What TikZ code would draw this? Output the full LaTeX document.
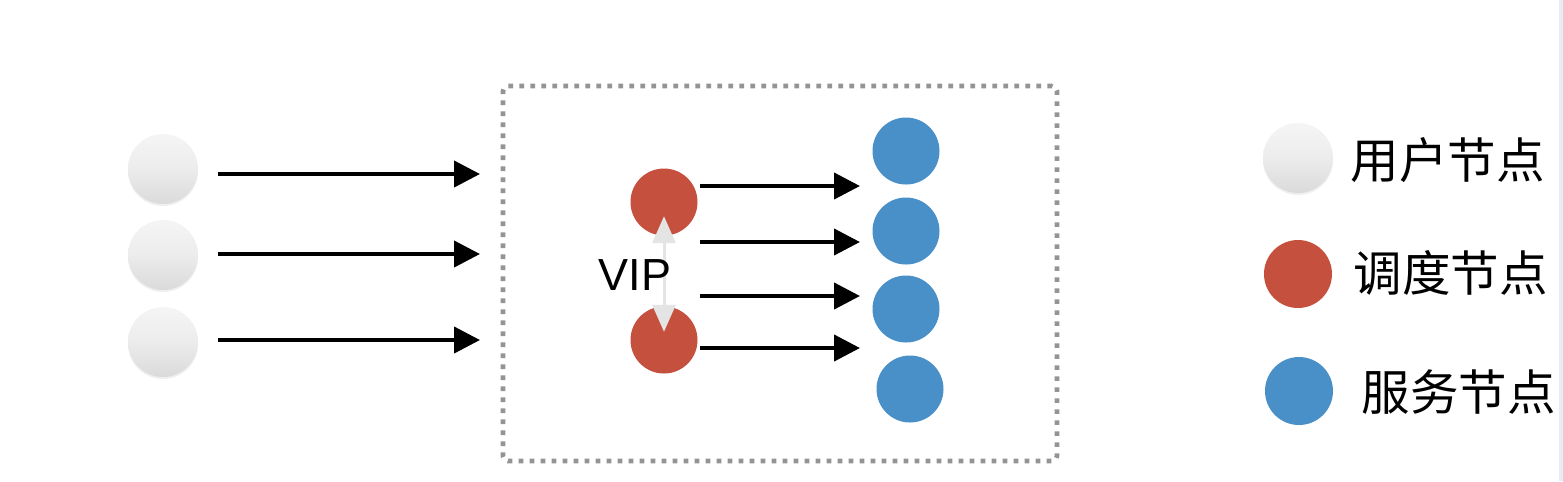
\documentclass[tikz,border=0pt]{standalone}
\usepackage{fontspec}
\newfontfamily\cjk{Noto Sans CJK SC}
\newfontfamily\vipfont{Liberation Sans}
\usetikzlibrary{arrows.meta,calc,shadows}
\definecolor{userlight}{HTML}{F5F5F5}
\definecolor{usermid}{HTML}{ECECEC}
\definecolor{userdark}{HTML}{DADADA}
\definecolor{schedred}{HTML}{C4503D}
\definecolor{servblue}{HTML}{4A90C8}
\definecolor{boxgray}{HTML}{949494}
\definecolor{vipgray}{HTML}{E4E4E4}
\definecolor{stripblue}{HTML}{E4EDF8}
\tikzset{
  usernode/.style={circle,minimum size=0.70cm,inner sep=0pt,top color=userlight,bottom color=userdark,middle color=usermid,
    drop shadow={shadow xshift=0cm,shadow yshift=-0.02cm,opacity=0.12}},
  schednode/.style={circle,minimum size=0.67cm,inner sep=0pt,fill=schedred},
  servnode/.style={circle,minimum size=0.67cm,inner sep=0pt,fill=servblue},
  arr/.style={line width=0.042cm,-{Triangle[length=0.26cm,width=0.26cm]}},
  viparr/.style={line width=0.03cm,draw=vipgray,fill=vipgray,{Triangle[length=0.27cm,width=0.23cm]}-{Triangle[length=0.27cm,width=0.23cm]}},
  dotbox/.style={draw=boxgray,line width=0.047cm,dash pattern=on 0.047cm off 0.063cm,rounded corners=0.05cm},
  legtext/.style={anchor=west,inner sep=0pt,font=\cjk\fontsize{13.8}{16}\selectfont},
}
\begin{document}
\begin{tikzpicture}
\useasboundingbox (0,0) rectangle (15.63,-4.81);
\fill[white] (0,0) rectangle (15.63,-4.81);
\fill[stripblue] (15.59,0) rectangle (15.63,-4.81);

% dotted box
\node[dotbox,minimum width=5.54cm,minimum height=3.75cm,inner sep=0pt] (box) at (7.80,-2.735) {};

% user nodes
\node[usernode] (u1) at (1.63,-1.69) {};
\node[usernode] (u2) at (1.63,-2.55) {};
\node[usernode] (u3) at (1.63,-3.42) {};
\coordinate (in1) at (4.80,-1.74);
\coordinate (in2) at (4.80,-2.54);
\coordinate (in3) at (4.80,-3.40);
\draw[arr] ($(in1 -| u1.east)+(0.19,0)$) -- (in1);
\draw[arr] ($(in2 -| u2.east)+(0.19,0)$) -- (in2);
\draw[arr] ($(in3 -| u3.east)+(0.19,0)$) -- (in3);

% scheduler nodes
\node[schednode] (r1) at (6.64,-2.02) {};
\node[schednode] (r2) at (6.64,-3.40) {};

% service nodes
\node[servnode] (b1) at (9.06,-1.51) {};
\node[servnode] (b2) at (9.06,-2.31) {};
\node[servnode] (b3) at (9.06,-3.09) {};
\node[servnode] (b4) at (9.10,-3.89) {};

\coordinate (t1) at (8.60,-1.86);
\coordinate (t2) at (8.60,-2.42);
\coordinate (t3) at (8.60,-2.96);
\coordinate (t4) at (8.60,-3.48);
\draw[arr] ($(r1.east |- t1)+(0.02,0)$) -- (t1);
\draw[arr] ($(r1.east |- t2)+(0.02,0)$) -- (t2);
\draw[arr] ($(r2.east |- t3)+(0.02,0)$) -- (t3);
\draw[arr] ($(r2.east |- t4)+(0.02,0)$) -- (t4);

% VIP
\draw[viparr] ([yshift=0.20cm]r1.south) -- ([yshift=-0.26cm]r2.north);
\node[inner sep=0pt,font=\vipfont\fontsize{12.8}{15}\selectfont] (vip) at (6.35,-2.75) {VIP};

% legend
\node[usernode] (lu) at (12.98,-1.58) {};
\node[schednode,minimum size=0.68cm] (lr) at (12.98,-2.74) {};
\node[servnode,minimum size=0.68cm] (lb) at (12.99,-3.91) {};
\node[legtext] (tu) at (13.50,-1.60) {用户节点};
\node[legtext] (tr) at (13.53,-2.73) {调度节点};
\node[legtext] (tb) at (13.61,-3.92) {服务节点};
\end{tikzpicture}
\end{document}
